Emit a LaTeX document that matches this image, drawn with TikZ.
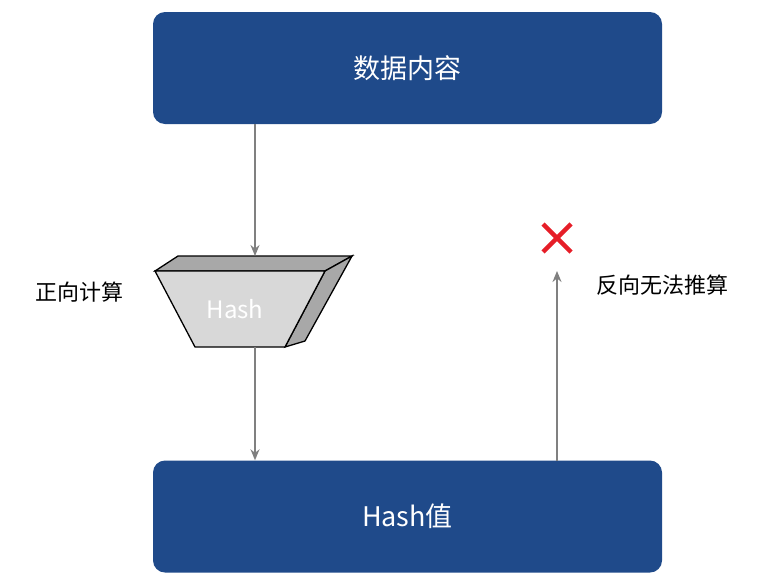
\documentclass[tikz,border=0pt]{standalone}
\usepackage{fontspec}
\setmainfont{Noto Sans CJK SC}
\usepackage{tikz}
\usetikzlibrary{arrows.meta,positioning}
\definecolor{boxblue}{RGB}{31,74,138}
\definecolor{shapegray}{RGB}{216,216,216}
\definecolor{sidegray}{RGB}{168,168,168}
\definecolor{linegray}{RGB}{128,128,128}
\definecolor{crossred}{RGB}{230,30,40}
\tikzset{
  bluebox/.style={fill=boxblue, rounded corners=12pt, minimum width=509pt, minimum height=112pt,
    text=white, font=\fontsize{27}{30}\selectfont},
  flowarrow/.style={draw=linegray, line width=1.6pt, -{Stealth[length=11pt,width=9pt]}},
  sidelabel/.style={font=\fontsize{22}{26}\selectfont}
}
\begin{document}
\begin{tikzpicture}[x=1pt,y=-1pt]
    \useasboundingbox (0,0) rectangle (766,579);
    % Boxes
    \node[bluebox] (data) at (407.5,68) {数据内容};
    \node[bluebox] (value) at (407.5,516.5) {Hash值};
    
    % Hash shape
    \filldraw[fill=sidegray, line width=1.3pt] (155,271) -- (178,256) -- (352,256) -- (325,271) -- cycle;
    \filldraw[fill=sidegray, line width=1.3pt] (325,271) -- (352,256) -- (305,341) -- (285,347) -- cycle;
    \filldraw[fill=shapegray, line width=1.3pt] (155,271) -- (325,271) -- (285,347) -- (195,347) -- cycle;
    \node[text=white, font=\fontsize{24}{28}\selectfont] (hash) at (235,309) {Hash};
    \coordinate (hashtop) at (255,256);
    \coordinate (hashbot) at (255,347);
    \coordinate (upstart) at (557,461);
    \coordinate (upend) at (557,271);
    
    % Arrows
    \draw[flowarrow] (data.south -| hashtop) -- (hashtop);
    \draw[flowarrow] (hashbot) -- (value.north -| hashbot);
    \draw[flowarrow] (upstart) -- (upend);
    
    % Labels
    \node[sidelabel] (fwd) at (79,292) {正向计算};
    \node[sidelabel] (back) at (662,285) {反向无法推算};
    \draw[crossred, line width=4.5pt] (543,224) -- (571,252) (571,224) -- (543,252);
\end{tikzpicture}
\end{document}
